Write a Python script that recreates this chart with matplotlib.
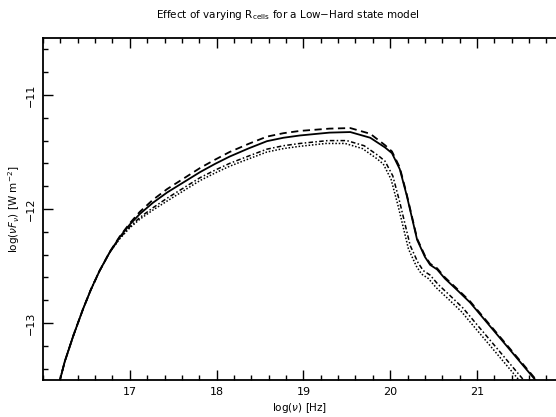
import matplotlib
matplotlib.use("Agg")
import matplotlib.pyplot as plt
from matplotlib.ticker import MultipleLocator

plt.rcParams['font.family'] = ['DejaVu Sans']
plt.rcParams['mathtext.fontset'] = 'dejavusans'

# log(nu) [Hz] and log(nu F_nu) [W m^-2] for four values of R_cells
x_solid = [16.15, 16.185, 16.25, 16.35, 16.46, 16.55, 16.65, 16.77, 16.885, 17.0,
           17.115, 17.265, 17.43, 17.81, 17.98, 18.15, 18.37, 18.58, 18.77, 18.96,
           19.3, 19.54, 19.77, 19.94, 20.02, 20.11, 20.19, 20.31, 20.40, 20.46,
           20.54, 20.63, 20.77, 20.92, 21.65, 21.80]
y_solid = [-13.62, -13.53, -13.34, -13.11, -12.88, -12.71, -12.545, -12.377, -12.245, -12.136,
           -12.044, -11.946, -11.855, -11.676, -11.605, -11.54, -11.468, -11.405, -11.375, -11.355,
           -11.33, -11.325, -11.375, -11.46, -11.51, -11.65, -11.88, -12.27, -12.42, -12.49,
           -12.53, -12.61, -12.71, -12.82, -13.48, -13.61]

x_dashed = x_solid
y_dashed = [-13.62, -13.53, -13.34, -13.11, -12.88, -12.71, -12.545, -12.375, -12.24, -12.125,
            -12.025, -11.92, -11.825, -11.64, -11.568, -11.50, -11.428, -11.365, -11.335, -11.315,
            -11.295, -11.29, -11.34, -11.44, -11.495, -11.635, -11.87, -12.26, -12.41, -12.48,
            -12.52, -12.60, -12.70, -12.81, -13.47, -13.60]

x_dashdot = [16.15, 16.185, 16.25, 16.35, 16.46, 16.55, 16.65, 16.77, 16.885, 17.0,
             17.115, 17.265, 17.43, 17.81, 17.98, 18.15, 18.37, 18.58, 18.77, 18.96,
             19.28, 19.5, 19.70, 19.86, 19.94, 20.03, 20.11, 20.23, 20.32, 20.38,
             20.46, 20.55, 20.69, 20.84, 21.57, 21.72]
y_dashdot = [-13.62, -13.53, -13.34, -13.11, -12.88, -12.71, -12.545, -12.38, -12.255, -12.155,
             -12.075, -11.99, -11.905, -11.725, -11.66, -11.60, -11.535, -11.475, -11.445, -11.425,
             -11.40, -11.40, -11.445, -11.53, -11.58, -11.71, -11.94, -12.32, -12.47, -12.54,
             -12.58, -12.66, -12.76, -12.87, -13.53, -13.66]

x_dotted = [16.15, 16.185, 16.25, 16.35, 16.46, 16.55, 16.65, 16.77, 16.885, 17.0,
            17.115, 17.265, 17.43, 17.81, 17.98, 18.15, 18.37, 18.58, 18.77, 18.96,
            19.26, 19.48, 19.68, 19.84, 19.92, 20.01, 20.09, 20.21, 20.30, 20.36,
            20.44, 20.53, 20.67, 20.82, 21.55, 21.70]
y_dotted = [-13.62, -13.53, -13.34, -13.11, -12.88, -12.71, -12.545, -12.38, -12.26, -12.165,
            -12.09, -12.01, -11.93, -11.75, -11.685, -11.625, -11.56, -11.50, -11.47, -11.45,
            -11.425, -11.425, -11.47, -11.555, -11.605, -11.74, -11.97, -12.35, -12.50, -12.57,
            -12.61, -12.69, -12.79, -12.90, -13.56, -13.69]

x_ticks = [17, 18, 19, 20, 21]
y_ticks = [-13, -12, -11]

fig = plt.figure(figsize=(5.56, 4.17), dpi=100)
ax = fig.add_axes([43 / 556, 1 - 380 / 417, 1 - 43 / 556, (380 - 38) / 417])

ax.plot(x_solid, y_solid, color='black', lw=1.3, ls='-')
ax.plot(x_dashed, y_dashed, color='black', lw=1.3, ls=(0, (4, 2.5)))
ax.plot(x_dashdot, y_dashdot, color='black', lw=1.1, ls=(0, (3, 1.5, 1, 1.5)))
ax.plot(x_dotted, y_dotted, color='black', lw=1.1, ls=(0, (1, 1.2)))

ax.set_xlim(16.0, 21.91)
ax.set_ylim(-13.5, -10.5)
ax.set_xticks(x_ticks)
ax.set_yticks(y_ticks)
ax.xaxis.set_minor_locator(MultipleLocator(0.2))
ax.yaxis.set_minor_locator(MultipleLocator(0.2))

ax.spines['right'].set_visible(False)
for s in ('left', 'top', 'bottom'):
    ax.spines[s].set_linewidth(1.3)

ax.tick_params(which='both', direction='in', top=True, right=False, width=1.0)
ax.tick_params(which='major', length=7, labelsize=8, pad=5)
ax.tick_params(which='minor', length=3.5)
for lab in ax.get_yticklabels():
    lab.set_rotation(90)
    lab.set_va('center')

ax.set_xlabel(r'log($\nu$) [Hz]', fontsize=7.5, labelpad=3)
ax.set_ylabel(r'log($\nu F_\nu$) [W m$^{-2}$]', fontsize=7.5, labelpad=3)

fig.text(288 / 556, 1 - 15 / 417,
         r'Effect of varying R$_{\mathregular{cells}}$ for a Low$-$Hard state model',
         ha='center', va='center', fontsize=7.5)

fig.savefig('out.png', dpi=100)
